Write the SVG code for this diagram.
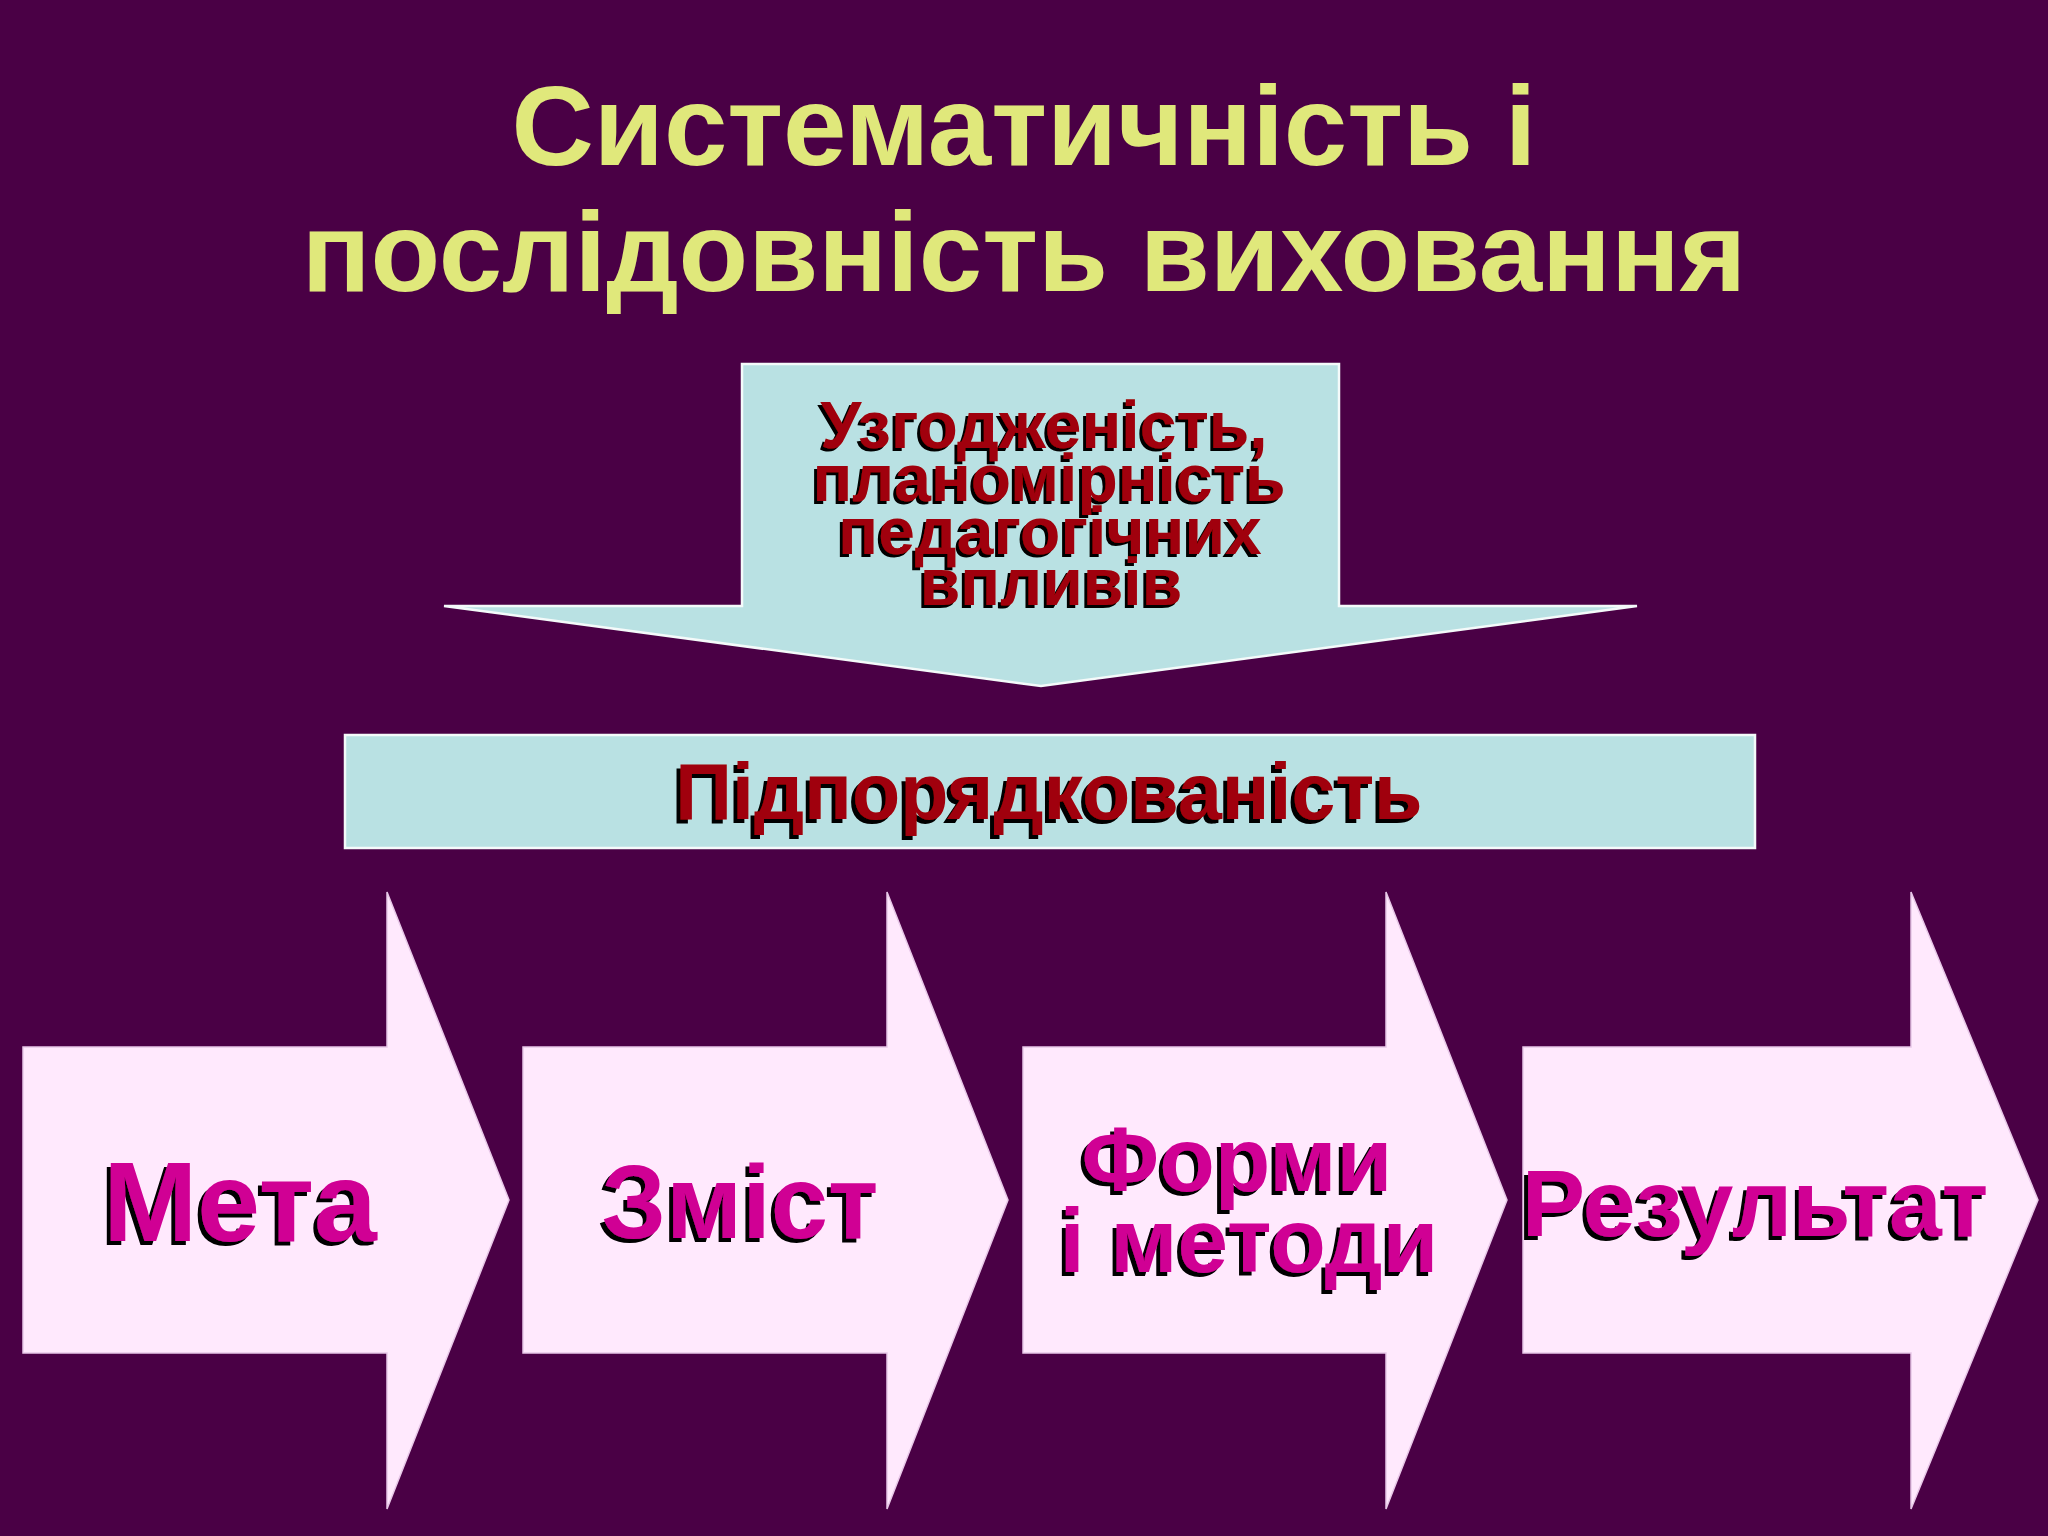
<svg xmlns="http://www.w3.org/2000/svg" width="2048" height="1536" viewBox="0 0 2048 1536">
<style>
.t{font-family:"Liberation Sans",Arial,sans-serif;font-weight:bold;text-anchor:middle}
.title{fill:#E0E87B;font-size:114px}
.red{fill:#A00008}
.mag{fill:#D00094}
.cyan{fill:#B9E1E3;stroke:#F4FAFA;stroke-width:2.5}
.pink{fill:#FFE9FD;stroke:#E8C8E8;stroke-width:1.5}
</style>
<defs>
<filter id="sh3" x="-10%" y="-10%" width="120%" height="130%">
<feOffset in="SourceAlpha" dx="-3" dy="3" result="o"/>
<feMerge><feMergeNode in="o"/><feMergeNode in="SourceGraphic"/></feMerge>
</filter>
<filter id="sh4" x="-10%" y="-10%" width="120%" height="130%">
<feOffset in="SourceAlpha" dx="-4" dy="4" result="o"/>
<feMerge><feMergeNode in="o"/><feMergeNode in="SourceGraphic"/></feMerge>
</filter>
</defs>
<rect x="0" y="0" width="2048" height="1536" fill="#4A0045"/>
<g id="title">
<text class="t title" x="1024" y="165">Систематичність і</text>
<text class="t title" x="1024" y="291">послідовність виховання</text>
</g>
<g id="down-arrow">
<polygon class="cyan" points="742,364 1339,364 1339,606 1637,606 1041,686 444,606 742,606"/>
<g class="t red" font-size="66" filter="url(#sh3)">
<text x="1044" y="448">Узгодженість,</text>
<text x="1049" y="501">планомірність</text>
<text x="1050" y="554">педагогічних</text>
<text x="1051" y="605">впливів</text>
</g>
</g>
<g id="subordination">
<rect class="cyan" x="345" y="735" width="1410" height="113"/>
<text class="t red" font-size="79" x="1049" y="819" filter="url(#sh4)">Підпорядкованість</text>
</g>
<g id="meta">
<polygon class="pink" points="23,1047 387,1047 387,892 509,1200 387,1509 387,1353 23,1353"/>
<text class="t mag" font-size="113" x="240" y="1241" filter="url(#sh4)">Мета</text>
</g>
<g id="zmist">
<polygon class="pink" points="523,1047 887,1047 887,892 1008,1200 887,1509 887,1353 523,1353"/>
<text class="t mag" font-size="103" x="740" y="1238" filter="url(#sh4)">Зміст</text>
</g>
<g id="formy">
<polygon class="pink" points="1023,1047 1386,1047 1386,892 1507,1200 1386,1509 1386,1353 1023,1353"/>
<g class="t mag" font-size="91" filter="url(#sh4)">
<text x="1237" y="1191">Форми</text>
<text x="1249" y="1272">і методи</text>
</g>
</g>
<g id="rezultat">
<polygon class="pink" points="1523,1047 1911,1047 1911,892 2038,1200 1911,1509 1911,1353 1523,1353"/>
<text class="t mag" font-size="95" x="1755" y="1236" filter="url(#sh4)">Результат</text>
</g>
<g id="connectors"></g>
</svg>
